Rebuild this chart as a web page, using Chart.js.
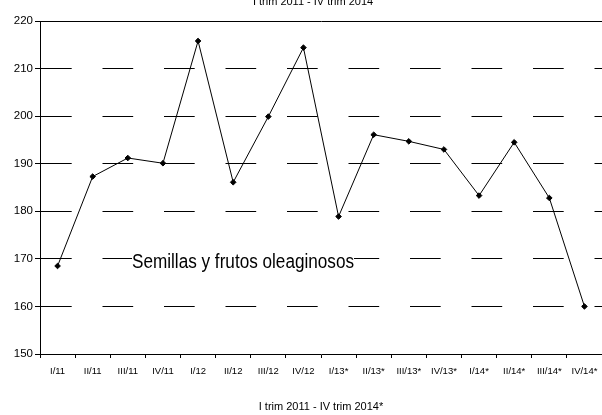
<!DOCTYPE html>
<html>
<head>
<meta charset="utf-8">
<script src="https://cdn.jsdelivr.net/npm/chart.js@4/dist/chart.umd.min.js"></script>
<style>
  html, body { margin: 0; padding: 0; background: #fff; overflow: hidden; width: 602px; height: 415px; }
  #wrap { width: 607px; height: 415px; }
</style>
</head>
<body>
<div id="wrap"><canvas id="c" width="607" height="415"></canvas></div>
<script>
const categories = ['I/11','II/11','III/11','IV/11','I/12','II/12','III/12','IV/12','I/13*','II/13*','III/13*','IV/13*','I/14*','II/14*','III/14*','IV/14*'];
const values = [168.5, 187.3, 191.2, 190.1, 215.8, 186.1, 199.9, 214.4, 178.9, 196.1, 194.7, 193.0, 183.3, 194.5, 182.8, 160.0];
const yMin = 150, yMax = 220, yStep = 10;
const topTitle = 'I trim 2011 - IV trim 2014';
const xTitle = 'I trim 2011 - IV trim 2014*';
const seriesLabel = 'Semillas y frutos oleaginosos';

const FONT = "'Liberation Sans', Arial, sans-serif";

const textPlugin = {
  id: 'texts',
  afterDraw(chart) {
    const ctx = chart.ctx;
    const ca = chart.chartArea;
    ctx.save();
    // top (clipped) title
    ctx.font = '11px ' + FONT;
    ctx.fillStyle = '#000';
    ctx.textAlign = 'center';
    ctx.textBaseline = 'alphabetic';
    ctx.fillText(topTitle, 313, 5);
    // series label inside plot
    ctx.font = '20px ' + FONT;
    const w = ctx.measureText(seriesLabel).width;
    const sx = 222 / w;
    const x0 = ca.left + 92, base = 268;
    ctx.fillStyle = '#fff';
    ctx.fillRect(x0, base - 16, 222, 20);
    ctx.translate(x0, base);
    ctx.scale(sx, 1);
    ctx.fillStyle = '#000';
    ctx.textAlign = 'left';
    ctx.fillText(seriesLabel, 0, 0);
    ctx.restore();
  }
};

new Chart(document.getElementById('c'), {
  type: 'line',
  data: {
    labels: categories,
    datasets: [{
      label: seriesLabel,
      data: values,
      borderColor: '#000',
      borderWidth: 1,
      backgroundColor: '#000',
      pointStyle: 'rectRot',
      pointRadius: 2.8,
      pointBorderWidth: 1,
      pointBackgroundColor: '#000',
      pointBorderColor: '#000',
      tension: 0,
      fill: false
    }]
  },
  options: {
    responsive: false,
    animation: false,
    devicePixelRatio: 1,
    layout: { padding: { top: 21, left: 0, right: 0, bottom: 0 } },
    plugins: {
      legend: { display: false },
      title: { display: false },
      tooltip: { enabled: false }
    },
    scales: {
      x: {
        type: 'category',
        offset: true,
        grid: {
          offset: true,
          drawOnChartArea: false,
          drawTicks: true,
          tickLength: 4,
          color: '#000',
          lineWidth: 1
        },
        border: { display: true, color: '#000', width: 1 },
        ticks: {
          color: '#000',
          font: { family: FONT, size: 9.5 },
          padding: 8,
          maxRotation: 0,
          autoSkip: false
        },
        title: {
          display: true,
          text: xTitle,
          color: '#000',
          font: { family: FONT, size: 11 },
          padding: { top: 0, bottom: 1.5 }
        },
        afterFit(scale) { scale.height = 61; }
      },
      y: {
        min: yMin,
        max: yMax,
        grid: {
          color: '#000',
          lineWidth: 1,
          drawTicks: true,
          tickLength: 5,
          tickColor: '#000'
        },
        border: {
          display: true,
          color: '#000',
          width: 1,
          dash: (ctx) => (ctx.tick && ctx.tick.value === yMax) ? [] : [30.7, 30.8]
        },
        ticks: {
          stepSize: yStep,
          color: '#000',
          font: { family: FONT, size: 11.5 },
          padding: 2
        },
        afterFit(scale) { scale.width = 40; }
      }
    }
  },
  plugins: [textPlugin]
});
</script>
</body>
</html>
